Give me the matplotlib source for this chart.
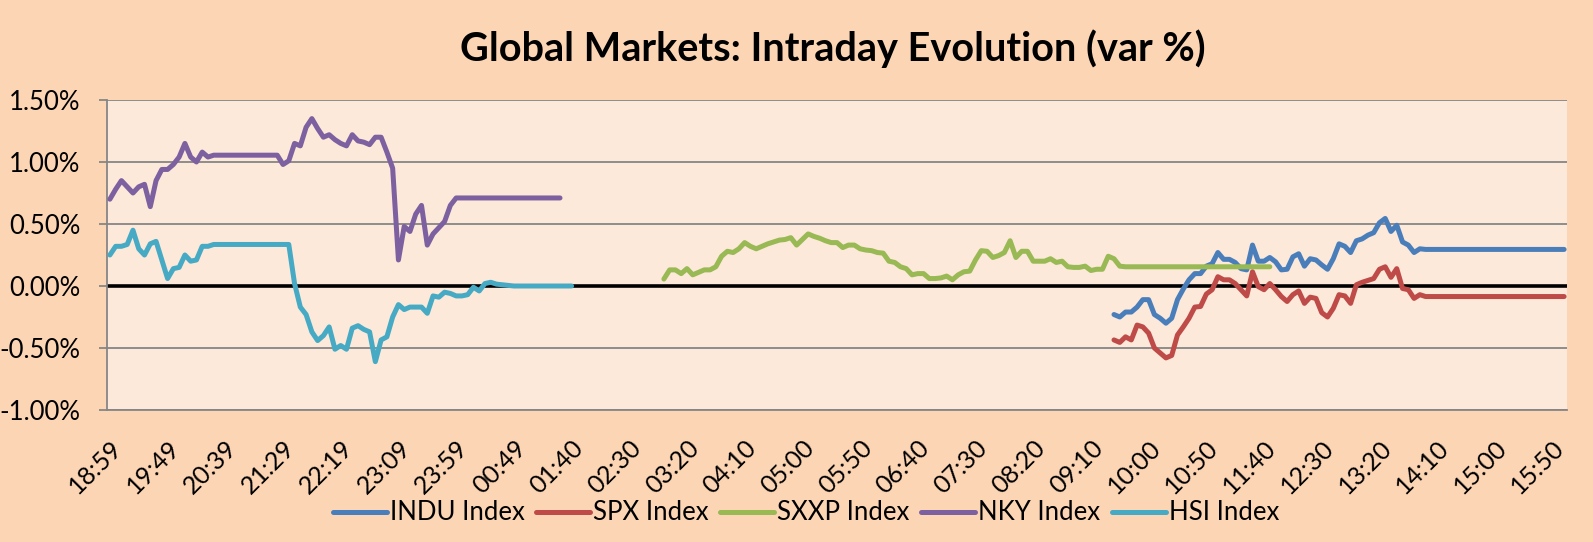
import matplotlib
matplotlib.use("Agg")
import matplotlib.pyplot as plt
import numpy as np
import pandas as pd

plt.rcParams['font.family'] = ['Lato', 'DejaVu Sans']

# 5 minute buckets; the clock snaps to round minutes after 00:54
times_a = pd.date_range("2014-01-01 18:59", "2014-01-02 00:54", freq="5min")
times_b = pd.date_range("2014-01-02 01:00", "2014-01-02 16:00", freq="5min")
times = [t.strftime("%H:%M") for t in times_a] + [t.strftime("%H:%M") for t in times_b]

series_names = ["INDU Index", "SPX Index", "SXXP Index", "NKY Index", "HSI Index"]
series_colors = ["#4A7EBB", "#BE4B48", "#98B954", "#7D60A0", "#46AAC5"]
series_start = ["09:30", "09:30", "03:00", "18:59", "18:59"]

# var % values, one per 5 min bucket from the start time
indu = [-0.23, -0.25, -0.21, -0.21, -0.17, -0.11, -0.11, -0.23, -0.26, -0.30,
        -0.26, -0.11, -0.025, 0.05, 0.10, 0.10, 0.16, 0.18, 0.27, 0.215,
        0.215, 0.19, 0.14, 0.13, 0.33, 0.20, 0.20, 0.23, 0.195, 0.13,
        0.135, 0.235, 0.26, 0.16, 0.22, 0.21, 0.17, 0.135, 0.22, 0.34,
        0.32, 0.27, 0.365, 0.38, 0.41, 0.43, 0.51, 0.545, 0.44, 0.49,
        0.355, 0.33, 0.27, 0.30, 0.295, 0.295, 0.295, 0.295, 0.295, 0.295,
        0.295, 0.295, 0.295, 0.295, 0.295, 0.295, 0.295, 0.295, 0.295, 0.295,
        0.295, 0.295, 0.295, 0.295, 0.295, 0.295, 0.295, 0.295, 0.295]
spx = [-0.435, -0.455, -0.41, -0.435, -0.315, -0.33, -0.38, -0.50, -0.54, -0.58,
       -0.56, -0.395, -0.33, -0.26, -0.17, -0.165, -0.065, -0.03, 0.075, 0.05,
       0.05, 0.02, -0.03, -0.08, 0.115, -0.005, -0.03, 0.02, -0.03, -0.085,
       -0.125, -0.07, -0.04, -0.14, -0.09, -0.10, -0.215, -0.25, -0.18, -0.07,
       -0.08, -0.14, 0.01, 0.03, 0.045, 0.06, 0.135, 0.155, 0.07, 0.14,
       -0.02, -0.03, -0.10, -0.07, -0.085, -0.085, -0.085, -0.085, -0.085, -0.085,
       -0.085, -0.085, -0.085, -0.085, -0.085, -0.085, -0.085, -0.085, -0.085, -0.085,
       -0.085, -0.085, -0.085, -0.085, -0.085, -0.085, -0.085, -0.085, -0.085]
sxxp = [0.056, 0.13, 0.13, 0.10, 0.14, 0.09, 0.11, 0.13, 0.13, 0.155,
        0.24, 0.28, 0.27, 0.30, 0.35, 0.32, 0.30, 0.32, 0.34, 0.355,
        0.37, 0.375, 0.39, 0.33, 0.375, 0.42, 0.40, 0.385, 0.365, 0.35,
        0.35, 0.31, 0.33, 0.33, 0.30, 0.29, 0.285, 0.27, 0.265, 0.20,
        0.19, 0.155, 0.14, 0.09, 0.10, 0.10, 0.06, 0.06, 0.065, 0.08,
        0.05, 0.09, 0.115, 0.12, 0.21, 0.285, 0.28, 0.23, 0.245, 0.27,
        0.365, 0.23, 0.28, 0.28, 0.20, 0.20, 0.20, 0.22, 0.19, 0.20,
        0.155, 0.15, 0.15, 0.16, 0.125, 0.135, 0.135, 0.24, 0.22, 0.16,
        0.155, 0.155, 0.155, 0.155, 0.155, 0.155, 0.155, 0.155, 0.155, 0.155,
        0.155, 0.155, 0.155, 0.155, 0.155, 0.155, 0.155, 0.155, 0.155, 0.155,
        0.155, 0.155, 0.155, 0.155, 0.155, 0.155]
nky = [0.70, 0.78, 0.85, 0.80, 0.75, 0.80, 0.82, 0.64, 0.85, 0.94,
       0.94, 0.98, 1.04, 1.15, 1.04, 1.00, 1.08, 1.04, 1.055, 1.055,
       1.055, 1.055, 1.055, 1.055, 1.055, 1.055, 1.055, 1.055, 1.055, 1.055,
       0.98, 1.01, 1.15, 1.13, 1.28, 1.35, 1.27, 1.20, 1.22, 1.18,
       1.15, 1.13, 1.22, 1.17, 1.16, 1.14, 1.20, 1.20, 1.08, 0.95,
       0.21, 0.48, 0.44, 0.58, 0.65, 0.33, 0.42, 0.47, 0.52, 0.65,
       0.71, 0.71, 0.71, 0.71, 0.71, 0.71, 0.71, 0.71, 0.71, 0.71,
       0.71, 0.71, 0.71, 0.71, 0.71, 0.71, 0.71, 0.71, 0.71]
hsi = [0.25, 0.32, 0.32, 0.335, 0.45, 0.30, 0.25, 0.34, 0.36, 0.21,
       0.06, 0.14, 0.15, 0.25, 0.20, 0.21, 0.32, 0.32, 0.335, 0.335,
       0.335, 0.335, 0.335, 0.335, 0.335, 0.335, 0.335, 0.335, 0.335, 0.335,
       0.335, 0.335, 0.02, -0.17, -0.23, -0.37, -0.44, -0.40, -0.33, -0.51,
       -0.48, -0.51, -0.34, -0.32, -0.35, -0.37, -0.61, -0.435, -0.41, -0.25,
       -0.15, -0.19, -0.17, -0.17, -0.17, -0.22, -0.08, -0.09, -0.05, -0.06,
       -0.08, -0.08, -0.07, -0.01, -0.04, 0.02, 0.03, 0.015, 0.01, 0.005,
       0.0, 0.0, 0.0, 0.0, 0.0, 0.0, 0.0, 0.0, 0.0, 0.0, 0.0]
series_values = [indu, spx, sxxp, nky, hsi]

y_ticks = [-1.0, -0.5, 0.0, 0.5, 1.0, 1.5]

fig = plt.figure(figsize=(15.93, 5.42), dpi=100, facecolor="#FCD5B4")
ax = fig.add_axes([107 / 1593, 1 - 410 / 542, 1460 / 1593, 310 / 542])
ax.set_facecolor("#FDE9D9")

x = np.arange(len(times))
ax.axhline(0, color="black", lw=2.6, zorder=2)
for name, color, start, vals in zip(series_names, series_colors, series_start, series_values):
    full = np.full(len(times), np.nan)
    s = times.index(start)
    full[s:s + len(vals)] = vals
    ax.plot(x, full, color=color, lw=3.6, label=name, zorder=3,
            solid_capstyle="round", solid_joinstyle="round")

ax.set_xlim(-0.5, len(times) - 0.5)
ax.set_ylim(-1.0, 1.5)
ax.set_yticks(y_ticks)
ax.yaxis.set_major_formatter(plt.FuncFormatter(lambda v, _: f"{v:.2f}%"))
ax.grid(axis="y", color="#868686", lw=1.3, zorder=1)
ax.set_axisbelow(True)

# one label every 10 buckets, slanted
ax.set_xticks(x[::10])
ax.set_xticklabels(times[::10], rotation=45, ha="right", va="top",
                   rotation_mode="anchor")
ax.tick_params(axis="x", length=0, pad=19, labelsize=18)
ax.tick_params(axis="y", length=6, width=1.3, color="#868686", labelsize=18.5, pad=13)

for side in ["top", "right"]:
    ax.spines[side].set_visible(False)
for side in ["left", "bottom"]:
    ax.spines[side].set_color("#868686")
    ax.spines[side].set_linewidth(1.3)

fig.suptitle("Global Markets: Intraday Evolution (var %)", x=833 / 1593, y=1 - 49 / 542,
             va="center", fontsize=28.5, fontweight="bold")

fig.legend(loc="center", bbox_to_anchor=(806 / 1593, 1 - 513 / 542), ncol=5,
           frameon=False, fontsize=18.5, handlelength=2.1, handletextpad=0.12,
           columnspacing=0.45)

fig.savefig("out.png", dpi=100, facecolor=fig.get_facecolor())
